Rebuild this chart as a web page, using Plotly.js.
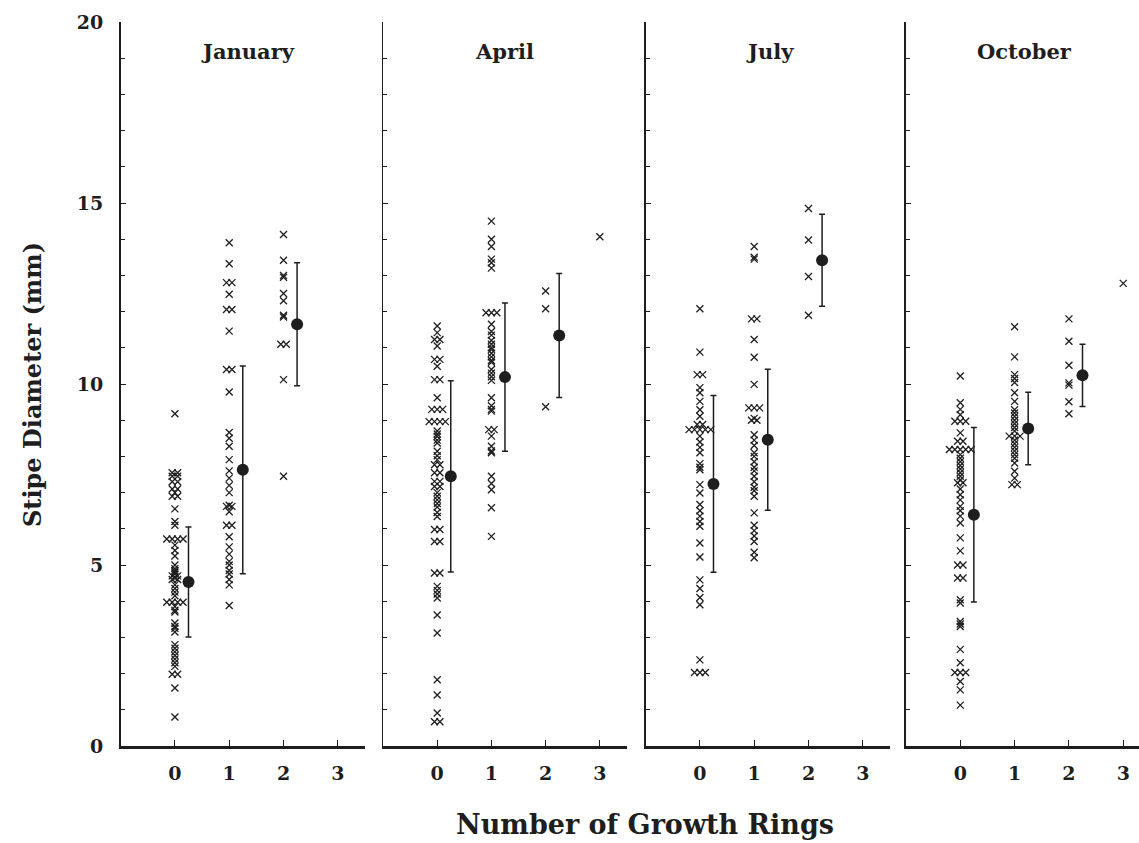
<!DOCTYPE html>
<html>
<head>
<meta charset="utf-8">
<script src="https://cdn.plot.ly/plotly-3.0.1.min.js"></script>
<style>html,body{margin:0;padding:0;background:#fff;}#chart{width:1139px;height:843px;}</style>
</head>
<body>
<div id="chart"></div>
<script>
// ---- Data ----
const months = ['January', 'April', 'July', 'October'];
const ringTicks = [0, 1, 2, 3];
const yTickVals = [0, 5, 10, 15, 20];
const yTickText = ['0', '5', '10', '15', '20'];

// Individual stipe diameters (mm) per number of growth rings
const janRing0 = [9.18, 7.55, 7.55, 7.45, 7.45, 7.3, 7.3, 7.1, 7.1, 7.0, 6.9, 6.9, 6.55, 6.2, 6.1,
  5.72, 5.72, 5.72, 5.72, 5.55, 5.4, 5.25, 5.0, 4.9, 4.85, 4.8, 4.75, 4.7, 4.7, 4.65, 4.6, 4.6,
  4.45, 4.35, 4.25, 4.15, 3.97, 3.97, 3.97, 3.97, 3.85, 3.75, 3.7, 3.4, 3.3, 3.25, 3.15,
  2.8, 2.7, 2.6, 2.5, 2.4, 2.3, 2.2, 1.98, 1.98, 1.6, 0.8];
const janRing1 = [13.9, 13.32, 12.8, 12.8, 12.48, 12.06, 12.06, 11.46, 10.4, 10.4, 9.78, 8.66, 8.5, 8.28,
  7.91, 7.6, 7.4, 7.2, 7.0, 6.65, 6.62, 6.62, 6.47, 6.1, 6.1, 5.78, 5.5, 5.3, 5.1, 5.0, 4.85, 4.75,
  4.6, 4.45, 3.88];
const janRing2 = [14.13, 13.42, 13.0, 12.95, 12.5, 12.3, 11.9, 11.85, 11.1, 11.1, 10.12, 7.45];
const janRing3 = [];

const aprRing0 = [11.6, 11.42, 11.23, 11.23, 11.05, 10.68, 10.68, 10.49, 10.12, 10.12, 9.62, 9.3, 9.3, 9.3,
  8.96, 8.96, 8.96, 8.96, 8.7, 8.62, 8.55, 8.45, 8.37, 8.14, 8.02, 7.91, 7.77, 7.77, 7.55, 7.55,
  7.31, 7.31, 7.17, 7.17, 7.0, 6.9, 6.8, 6.7, 6.6, 6.45, 6.34, 5.98, 5.98, 5.65, 5.65,
  4.78, 4.78, 4.41, 4.3, 4.2, 4.09, 3.62, 3.12, 1.83, 1.41, 0.91, 0.67, 0.67];
const aprRing1 = [14.5, 14.0, 13.8, 13.45, 13.35, 13.2, 11.97, 11.97, 11.97, 11.65, 11.45, 11.35, 11.2,
  11.1, 11.0, 10.95, 10.85, 10.75, 10.65, 10.6, 10.4, 10.3, 10.2, 10.1, 9.62, 9.4, 9.3, 9.25,
  8.74, 8.74, 8.56, 8.28, 8.15, 8.1, 7.45, 7.25, 7.08, 6.58, 5.79];
const aprRing2 = [12.57, 12.08, 9.37];
const aprRing3 = [14.07];

const julRing0 = [12.08, 10.88, 10.26, 10.26, 9.9, 9.76, 9.52, 9.29, 9.11, 8.88, 8.88, 8.74, 8.74, 8.74,
  8.74, 8.74, 8.56, 8.4, 8.25, 8.1, 7.8, 7.7, 7.63, 7.22, 6.99, 6.67, 6.5, 6.35, 6.2, 6.07,
  5.61, 5.22, 4.59, 4.35, 4.1, 3.9, 2.38, 2.03, 2.03, 2.03];
const julRing1 = [13.8, 13.5, 13.45, 11.8, 11.8, 11.23, 10.74, 9.99, 9.34, 9.34, 9.34, 9.05, 9.0, 9.0,
  8.6, 8.45, 8.3, 8.1, 8.0, 7.85, 7.7, 7.6, 7.45, 7.3, 7.15, 7.05, 6.9, 6.44, 6.1, 5.95, 5.8,
  5.65, 5.35, 5.2];
const julRing2 = [14.85, 13.98, 12.97, 11.9];
const julRing3 = [];

const octRing0 = [10.22, 9.48, 9.3, 9.15, 8.97, 8.97, 8.97, 8.65, 8.42, 8.42, 8.19, 8.19, 8.19, 8.19, 8.19,
  8.05, 7.95, 7.85, 7.75, 7.65, 7.55, 7.45, 7.35, 7.27, 7.27, 7.1, 6.94, 6.8, 6.62, 6.5, 6.35,
  6.16, 5.75, 5.39, 5.0, 5.0, 4.64, 4.64, 4.04, 3.95, 3.44, 3.37, 3.3, 2.67, 2.3, 2.03, 2.03,
  2.03, 1.78, 1.55, 1.13];
const octRing1 = [11.58, 10.75, 10.26, 10.15, 10.04, 9.76, 9.52, 9.29, 9.2, 9.1, 9.0, 8.9, 8.8, 8.7,
  8.56, 8.56, 8.56, 8.45, 8.35, 8.25, 8.15, 8.05, 7.95, 7.82, 7.59, 7.4, 7.22, 7.22];
const octRing2 = [11.8, 11.18, 10.52, 10.03, 9.97, 9.51, 9.18];
const octRing3 = [12.78];

// Means and standard deviations for 0, 1, 2 rings
const meanRings = [0, 1, 2];
const janMean = [4.53, 7.63, 11.65];
const janSD = [1.52, 2.87, 1.70];
const aprMean = [7.45, 10.19, 11.34];
const aprSD = [2.64, 2.05, 1.71];
const julMean = [7.24, 8.46, 13.42];
const julSD = [2.44, 1.95, 1.27];
const octMean = [6.39, 8.77, 10.24];
const octSD = [2.41, 1.00, 0.86];

// ---- Build chart ----
const groups = [
  [janRing0, janRing1, janRing2, janRing3],
  [aprRing0, aprRing1, aprRing2, aprRing3],
  [julRing0, julRing1, julRing2, julRing3],
  [octRing0, octRing1, octRing2, octRing3]
];
const means = [janMean, aprMean, julMean, octMean];
const sds = [janSD, aprSD, julSD, octSD];

const INK = '#1e1e1e';
const FONT = 'DejaVu Serif, Liberation Serif, serif';
const JITTER = 0.1;      // horizontal spread for coincident values
const MEAN_SHIFT = 0.25; // mean markers drawn just right of the crosses

const traces = [];
groups.forEach((g, p) => {
  const suffix = p === 0 ? '' : String(p + 1);
  const xs = [], ys = [];
  g.forEach((vals, ring) => {
    const counts = {};
    vals.forEach(v => { counts[v] = (counts[v] || 0) + 1; });
    const seen = {};
    vals.forEach(v => {
      const n = counts[v];
      const i = seen[v] || 0;
      seen[v] = i + 1;
      xs.push(ringTicks[ring] + (i - (n - 1) / 2) * JITTER);
      ys.push(v);
    });
  });
  traces.push({
    type: 'scatter', mode: 'markers', x: xs, y: ys,
    xaxis: 'x' + suffix, yaxis: 'y' + suffix,
    marker: { symbol: 'x-thin', size: 7, line: { width: 1.3, color: INK }, color: INK },
    hoverinfo: 'skip', showlegend: false
  });
  traces.push({
    type: 'scatter', mode: 'markers',
    x: meanRings.map(r => r + MEAN_SHIFT), y: means[p],
    xaxis: 'x' + suffix, yaxis: 'y' + suffix,
    error_y: { type: 'data', array: sds[p], visible: true, color: INK, thickness: 1.5, width: 3 },
    marker: { symbol: 'circle', size: 12, color: INK },
    hoverinfo: 'skip', showlegend: false
  });
});

const domains = [[0.0006, 0.2404], [0.2581, 0.4975], [0.5158, 0.7556], [0.7713, 1.0]];
const ranges = [[-1, 3.5], [-1, 3.5], [-1, 3.5], [-1, 3.29]];

const layout = {
  width: 1139, height: 843,
  margin: { l: 120, r: 0, t: 22, b: 97 },
  paper_bgcolor: '#fff', plot_bgcolor: '#fff',
  font: { family: FONT, color: INK },
  showlegend: false,
  annotations: []
};

for (let p = 0; p < 4; p++) {
  const s = p === 0 ? '' : String(p + 1);
  layout['xaxis' + s] = {
    domain: domains[p], range: ranges[p], anchor: 'y' + s,
    tickvals: ringTicks, ticktext: ringTicks.map(String),
    ticks: 'inside', ticklen: 6, tickwidth: 1, tickcolor: INK,
    showline: true, linewidth: 2.5, linecolor: INK,
    showgrid: false, zeroline: false, ticklabelstandoff: 9,
    tickfont: { family: FONT, size: 19, color: INK, weight: 'bold' }
  };
  layout['yaxis' + s] = {
    domain: [0, 1], range: [0, 20], anchor: 'x' + s,
    tickvals: yTickVals, ticktext: yTickText,
    ticks: 'inside', ticklen: 5, tickwidth: 1, tickcolor: INK,
    minor: { dtick: 1, tick0: 0, ticks: 'inside', ticklen: 4, tickwidth: 1, tickcolor: INK },
    showline: true, linewidth: 1.5, linecolor: INK,
    showgrid: false, zeroline: false,
    showticklabels: p === 0, ticklabelstandoff: 12,
    tickfont: { family: FONT, size: 19, color: INK, weight: 'bold' }
  };
  layout.annotations.push({
    text: '<b>' + months[p] + '</b>', xref: 'x' + s, yref: 'paper',
    x: [1.35, 1.25, 1.29, 1.19][p], y: 0.9586, showarrow: false,
    xanchor: 'center', yanchor: 'middle',
    font: { family: FONT, size: 21, color: INK }
  });
}

layout.annotations.push({
  text: '<b>Number of Growth Rings</b>', xref: 'paper', yref: 'paper',
  x: 0.515, y: -0.109, showarrow: false, xanchor: 'center', yanchor: 'middle',
  font: { family: FONT, size: 27, color: INK }
});
layout.annotations.push({
  text: '<b>Stipe Diameter (mm)</b>', xref: 'paper', yref: 'paper',
  x: -0.0864, y: 0.5, showarrow: false, xanchor: 'center', yanchor: 'middle',
  textangle: -90,
  font: { family: FONT, size: 24, color: INK }
});

Plotly.newPlot('chart', traces, layout, { staticPlot: true, displayModeBar: false });
</script>
</body>
</html>
